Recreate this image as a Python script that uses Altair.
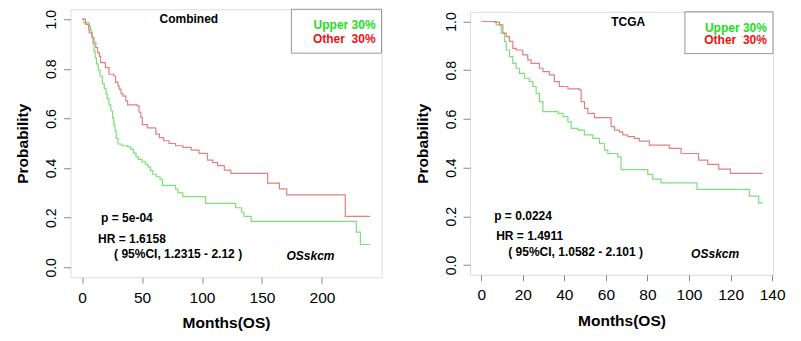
import altair as alt
import pandas as pd

# ---------------- data ----------------
groups = ["Upper 30%", "Other 30%"]

# Combined cohort
comb_up_t = [0, 1.5, 6, 7, 8, 9, 10, 11, 12, 13.5, 15, 17, 18.5, 20, 21, 22.5, 24, 25.5, 26.5, 27.5,
             28.5, 30, 33, 38, 40.5, 43, 45, 47, 50, 53, 55, 57, 59, 62, 65, 67, 78, 80, 84, 103,
             128, 133, 135, 141, 228.6, 232, 240]
comb_up_s = [1.0, 0.985, 0.973, 0.955, 0.93, 0.90, 0.87, 0.845, 0.82, 0.795, 0.77, 0.74, 0.72, 0.70,
             0.68, 0.655, 0.63, 0.60, 0.575, 0.55, 0.52, 0.497, 0.49, 0.485, 0.475, 0.46, 0.445, 0.435,
             0.425, 0.415, 0.405, 0.39, 0.375, 0.365, 0.355, 0.33, 0.315, 0.30, 0.285, 0.258, 0.24,
             0.222, 0.205, 0.185, 0.142, 0.092, 0.092]
comb_ot_t = [0, 3, 5.5, 6, 8.5, 10, 11.5, 13, 14.5, 15.5, 19.5, 22.5, 26.5, 28, 30, 31, 32.5, 34, 36.5,
             38, 46, 47.5, 49, 50.3, 54.5, 61.5, 64.5, 68, 72.5, 78, 84, 91, 97.5, 104.6, 109, 113,
             118.6, 124, 154.7, 164.5, 170.6, 219.4, 240]
comb_ot_s = [1.0, 0.979, 0.96, 0.945, 0.925, 0.905, 0.885, 0.865, 0.85, 0.825, 0.805, 0.778, 0.771,
             0.745, 0.73, 0.718, 0.70, 0.69, 0.671, 0.655, 0.651, 0.625, 0.604, 0.575, 0.562, 0.537,
             0.523, 0.51, 0.499, 0.49, 0.483, 0.472, 0.459, 0.432, 0.422, 0.41, 0.392, 0.379, 0.339,
             0.316, 0.292, 0.205, 0.205]

# TCGA cohort
tcga_up_t = [0, 7.2, 9.6, 11.2, 12, 13.6, 15.2, 16.8, 18.4, 20.8, 23.2, 24.9, 26.4, 28, 29.7, 36.9,
             39.3, 41.7, 43.3, 46.5, 49.7, 53.7, 56.9, 59.3, 60.9, 65.7, 67.3, 80.1, 82.5, 86.5,
             103.8, 129, 133.5, 135.4]
tcga_up_s = [1.0, 0.986, 0.952, 0.918, 0.883, 0.856, 0.828, 0.808, 0.787, 0.767, 0.753, 0.733, 0.705,
             0.671, 0.63, 0.623, 0.609, 0.588, 0.561, 0.554, 0.534, 0.52, 0.499, 0.472, 0.458, 0.444,
             0.392, 0.372, 0.353, 0.337, 0.311, 0.283, 0.255, 0.255]
tcga_ot_t = [0, 6.4, 8.8, 10.4, 12, 13.6, 15.2, 16.8, 20, 22.4, 24, 28, 29.7, 32.8, 35.2, 37.6, 41.7,
             47.3, 48.1, 49.7, 51.3, 54.5, 62.5, 64.1, 66.5, 68.1, 70.5, 73.7, 76.1, 80.9, 90.5, 96.2,
             104.6, 109, 114.3, 119.9, 135.4]
tcga_ot_s = [1.0, 0.997, 0.986, 0.952, 0.938, 0.918, 0.89, 0.883, 0.863, 0.842, 0.828, 0.808, 0.794,
             0.781, 0.753, 0.733, 0.723, 0.719, 0.671, 0.643, 0.623, 0.605, 0.568, 0.554, 0.547, 0.534,
             0.527, 0.52, 0.509, 0.492, 0.479, 0.458, 0.431, 0.413, 0.394, 0.376, 0.376]

comb_title = "Combined"
tcga_title = "TCGA"
comb_stats = ["p = 5e-04", "HR = 1.6158", "( 95%CI, 1.2315 - 2.12 )"]
tcga_stats = ["p = 0.0224", "HR = 1.4911", "( 95%CI, 1.0582 - 2.101 )"]
tag = "OSskcm"
legend_labels = ["Upper 30%", "Other\u00a0 30%"]

comb_xticks = [0, 50, 100, 150, 200]
tcga_xticks = [0, 20, 40, 60, 80, 100, 120, 140]
yticks = [0.0, 0.2, 0.4, 0.6, 0.8, 1.0]

LINE_COLORS = ["#7DE07D", "#E08282"]
TEXT_COLORS = ["#22DD22", "#EE1111"]
FONT = "Liberation Sans"


def curves(ut, us, ot, os_):
    rows = [{"time": t, "surv": s, "group": groups[0]} for t, s in zip(ut, us)]
    rows += [{"time": t, "surv": s, "group": groups[1]} for t, s in zip(ot, os_)]
    return pd.DataFrame(rows)


def panel(df, xmax, xticks, title, stats, w, h, title_pos, stat_pos, tag_pos, leg_pos, box_pos):
    xdom = [-0.04 * xmax, xmax * 1.04]
    ydom = [-0.04, 1.04]
    xs = alt.Scale(domain=xdom, nice=False, zero=False)
    ys = alt.Scale(domain=ydom, nice=False, zero=False)
    xaxis = alt.Axis(values=xticks, title="Months(OS)", labelFontSize=15.5, titleFontSize=15.5,
                     tickSize=6, labelPadding=7, titlePadding=10, labelFlush=False,
                     labelOverlap=False, grid=False, domain=False)
    yaxis = alt.Axis(values=yticks, format=".1f", title="Probability", labelAngle=270,
                     labelAlign="center", labelBaseline="bottom", labelFontSize=14,
                     titleFontSize=15.5, tickSize=7, labelPadding=5, titlePadding=14,
                     labelFlush=False, labelOverlap=False, grid=False, domain=False)

    lines = alt.Chart(df).mark_line(interpolate="step-after", strokeWidth=1.2).encode(
        x=alt.X("time:Q", scale=xs, axis=xaxis),
        y=alt.Y("surv:Q", scale=ys, axis=yaxis),
        color=alt.Color("group:N", scale=alt.Scale(domain=groups, range=LINE_COLORS), legend=None),
        detail="group:N",
    )

    layers = [lines]

    tdf = pd.DataFrame([{"x": title_pos[0], "y": title_pos[1], "t": title}])
    layers.append(alt.Chart(tdf).mark_text(font=FONT, fontWeight="bold", fontSize=12,
                                           align="center", baseline="middle", color="black").encode(
        x=alt.X("x:Q", scale=xs), y=alt.Y("y:Q", scale=ys), text="t:N"))

    sdf = pd.DataFrame([{"x": p[0], "y": p[1], "t": s} for p, s in zip(stat_pos, stats)])
    layers.append(alt.Chart(sdf).mark_text(font=FONT, fontWeight="bold", fontSize=12,
                                           align="left", baseline="middle", color="black").encode(
        x=alt.X("x:Q", scale=xs), y=alt.Y("y:Q", scale=ys), text="t:N"))

    gdf = pd.DataFrame([{"x": tag_pos[0], "y": tag_pos[1], "t": tag}])
    layers.append(alt.Chart(gdf).mark_text(font=FONT, fontWeight="bold", fontStyle="italic",
                                           fontSize=12, align="left", baseline="middle",
                                           color="black").encode(
        x=alt.X("x:Q", scale=xs), y=alt.Y("y:Q", scale=ys), text="t:N"))

    bdf = pd.DataFrame([{"x": box_pos[0], "x2": xdom[1], "y": box_pos[1], "y2": ydom[1]}])
    layers.append(alt.Chart(bdf).mark_rect(fill="white", fillOpacity=0, stroke="#999999",
                                           strokeWidth=1).encode(
        x=alt.X("x:Q", scale=xs), x2="x2:Q", y=alt.Y("y:Q", scale=ys), y2="y2:Q"))

    for lab, col, yy in zip(legend_labels, TEXT_COLORS, leg_pos[1]):
        ldf = pd.DataFrame([{"x": leg_pos[0], "y": yy, "t": lab}])
        layers.append(alt.Chart(ldf).mark_text(font=FONT, fontWeight="bold", fontSize=12,
                                               align="right", baseline="middle", color=col).encode(
            x=alt.X("x:Q", scale=xs), y=alt.Y("y:Q", scale=ys), text="t:N"))

    return alt.layer(*layers).properties(width=w, height=h)


left = panel(curves(comb_up_t, comb_up_s, comb_ot_t, comb_ot_s), 240, comb_xticks, comb_title,
             comb_stats, 311, 268,
             title_pos=(89, 1.0),
             stat_pos=[(15.9, 0.20), (13.4, 0.116), (26.7, 0.052)],
             tag_pos=(170.4, 0.044),
             leg_pos=(244.7, [0.976, 0.92]),
             box_pos=(174.5, 0.863))

right = panel(curves(tcga_up_t, tcga_up_s, tcga_ot_t, tcga_ot_s), 135, tcga_xticks, tcga_title,
              tcga_stats, 303, 263,
              title_pos=(70.7, 0.996),
              stat_pos=[(6.25, 0.20), (7.2, 0.12), (13, 0.053)],
              tag_pos=(101, 0.045),
              leg_pos=(137.5, [0.975, 0.922]),
              box_pos=(98, 0.868))

chart = alt.hconcat(left, right, spacing=31.5, center=True).properties(
    padding={"left": 6.5, "top": 0, "right": 4, "bottom": 0}
).configure_view(stroke="#999999", strokeWidth=1).configure_axis(
    grid=False, domain=False, tickColor="#888888", tickWidth=1,
    labelFont=FONT, labelFontWeight="bold", labelColor="black",
    titleFont=FONT, titleFontWeight="bold", titleColor="black"
).configure(background="white")

chart.save("out.html", embed_options={"renderer": "svg", "actions": False})
